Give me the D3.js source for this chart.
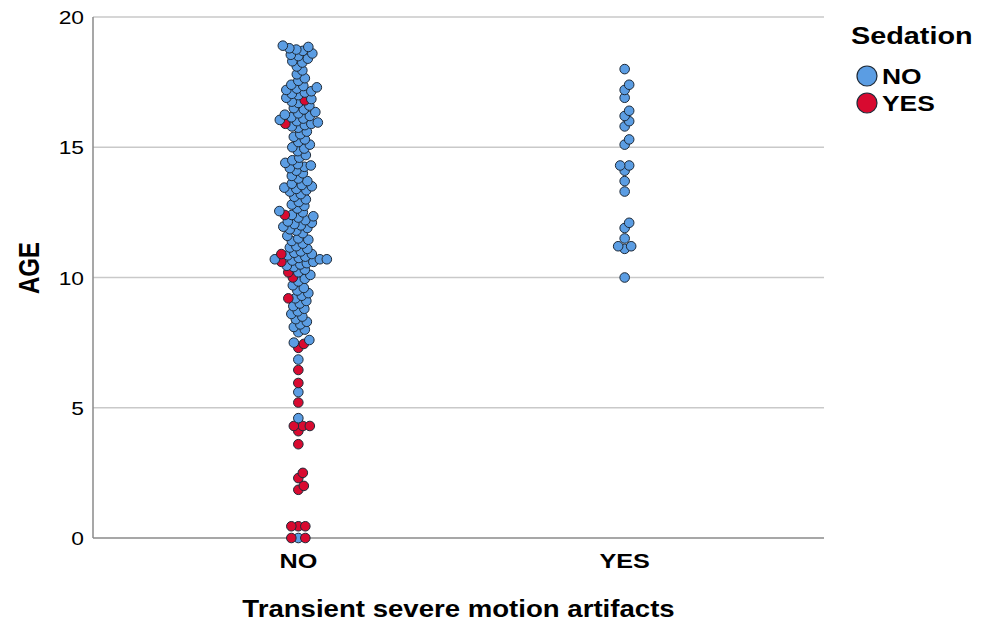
<!DOCTYPE html>
<html><head><meta charset="utf-8">
<script src="https://cdn.jsdelivr.net/npm/d3@7"></script>
<style>
html,body{margin:0;padding:0;background:#fff;}
text{font-family:"Liberation Sans",Arial,Helvetica,sans-serif;fill:#000;}
</style></head>
<body>
<svg id="chart" width="989" height="624"></svg>
<script>
// ---- data ----
const categories = ["NO", "YES"];
const sedationLevels = ["NO", "YES"];
const yTicks = [0, 5, 10, 15, 20];
// Transient artifacts = NO, Sedation = NO
const ageNoNo = [
  18.9,18.85,18.8,18.75,18.7,18.6,18.55,18.5,18.4,18.3,18.25,
  18.1,17.95,17.8,17.65,17.55,
  17.4,17.35,17.3,17.25,17.2,17.15,17.1,17.05,17.0,
  16.9,16.85,16.75,16.7,16.6,16.5,16.45,
  16.35,16.3,16.25,16.2,16.15,16.1,16.05,16.0,15.95,15.9,15.85,15.8,15.75,
  15.6,15.5,15.4,15.3,15.2,15.1,15.0,
  14.95,14.85,14.7,14.6,14.5,14.4,14.35,14.3,14.25,14.2,14.1,14.0,
  13.9,13.8,13.7,13.6,13.55,13.5,13.45,13.4,13.35,13.3,13.2,
  13.1,13.0,12.9,12.8,12.75,
  12.65,12.55,12.5,12.4,12.35,12.3,12.2,12.15,12.1,12.05,12.0,11.95,11.9,11.85,11.8,
  11.7,11.6,11.5,11.45,11.4,11.3,11.2,11.15,11.1,
  11.0,10.95,10.9,10.85,10.8,10.75,10.7,10.7,10.7,10.65,10.6,10.55,10.5,10.45,10.4,
  10.3,10.2,10.1,9.95,9.85,9.7,9.6,
  9.5,9.4,9.3,9.2,9.1,9.0,
  8.9,8.8,8.7,8.6,8.5,8.4,8.3,8.2,8.1,8.0,7.9,
  7.6,7.5,6.85,5.6,4.6,0.0
];
// Transient artifacts = NO, Sedation = YES
const ageNoYes = [
  16.8,15.9,12.4,10.9,10.6,10.2,10.0,9.2,7.45,7.3,6.45,5.95,5.2,
  4.3,4.3,4.3,4.1,3.6,2.5,2.3,2.0,1.85,0.45,0.45,0.45,0.0,0.0
];
// Transient artifacts = YES, Sedation = NO
const ageYesNo = [
  18.0,17.4,17.2,16.9,16.4,16.2,16.0,15.8,15.3,15.1,14.3,14.3,14.1,13.7,13.3,
  12.1,11.9,11.5,11.2,11.2,11.1,10.0
];

// ---- build records ----
const records = [];
ageNoNo.forEach(a => records.push({cat:"NO", sed:"NO", age:a}));
ageNoYes.forEach(a => records.push({cat:"NO", sed:"YES", age:a}));
ageYesNo.forEach(a => records.push({cat:"YES", sed:"NO", age:a}));

const svg = d3.select("#chart");
const mLeft = 93, mRight = 824, mTop = 17, mBottom = 538;
const SX = 1.2; // horizontal text stretch of the reference

const y = d3.scaleLinear().domain([0, 20]).range([mBottom, mTop]);
const x = d3.scalePoint().domain(categories).range([mLeft + 3, mRight + 3]).padding(0.62);
const color = d3.scaleOrdinal().domain(sedationLevels).range(["#5b9de3", "#d80a30"]);

// gridlines
svg.append("g").selectAll("line").data(yTicks.filter(t => t > 0)).join("line")
  .attr("x1", mLeft).attr("x2", mRight)
  .attr("y1", d => y(d)).attr("y2", d => y(d))
  .attr("stroke", "#c9c9c9").attr("stroke-width", 1.5);

// axes lines
svg.append("line").attr("x1", mLeft).attr("x2", mLeft).attr("y1", mTop).attr("y2", mBottom)
  .attr("stroke", "#8a8a8a").attr("stroke-width", 1.5);
svg.append("line").attr("x1", mLeft).attr("x2", mRight).attr("y1", mBottom).attr("y2", mBottom)
  .attr("stroke", "#8a8a8a").attr("stroke-width", 1.5);

function stext(sel, tx, ty, str, size, weight, anchor) {
  return sel.append("text")
    .attr("transform", `translate(${tx},${ty}) scale(${SX},1)`)
    .attr("text-anchor", anchor || "start")
    .attr("font-size", size).attr("font-weight", weight || "normal")
    .text(str);
}

// y tick labels
yTicks.forEach(t => stext(svg, 84, y(t) + 7, d3.format("d")(t), 19, "normal", "end"));
// x tick labels
categories.forEach(c => stext(svg, x(c), 568, c, 21, "bold", "middle"));

// axis titles
stext(svg, (mLeft + mRight) / 2, 617, "Transient severe motion artifacts", 23, "bold", "middle");
svg.append("text")
  .attr("transform", `translate(39,268) rotate(-90) scale(1,${SX})`)
  .attr("text-anchor", "middle").attr("font-size", 24).attr("font-weight", "bold")
  .text("AGE");

// ---- beeswarm layout ----
const r = 4.8, minDist = 6.6;
const placed = [];
const sorted = records.slice().sort((a, b) => d3.ascending(a.age, b.age));
sorted.forEach(d => {
  const cy = y(d.age), cx = x(d.cat);
  const near = placed.filter(p => p.cat === d.cat && Math.abs(p.py - cy) < minDist);
  let off = 0;
  for (let k = 0; k < 400; k++) {
    off = (k % 2 === 1 ? 1 : -1) * Math.ceil(k / 2) * 0.5;
    const px = cx + off;
    if (near.every(p => (p.px - px) ** 2 + (p.py - cy) ** 2 >= minDist * minDist)) break;
  }
  d.px = cx + off; d.py = cy;
  placed.push(d);
});

svg.append("g").selectAll("circle").data(placed).join("circle")
  .attr("cx", d => d.px).attr("cy", d => d.py).attr("r", r)
  .attr("fill", d => color(d.sed))
  .attr("stroke", "#1e2a38").attr("stroke-width", 1);

// ---- legend ----
stext(svg, 851, 44, "Sedation", 24, "bold", "start");
sedationLevels.forEach((s, i) => {
  const ly = 76 + i * 27;
  svg.append("circle").attr("cx", 867).attr("cy", ly).attr("r", 10)
    .attr("fill", color(s)).attr("stroke", "#1e2a38").attr("stroke-width", 1.2);
  stext(svg, 882, ly + 8, s, 22, "bold", "start");
});
</script>
</body></html>
